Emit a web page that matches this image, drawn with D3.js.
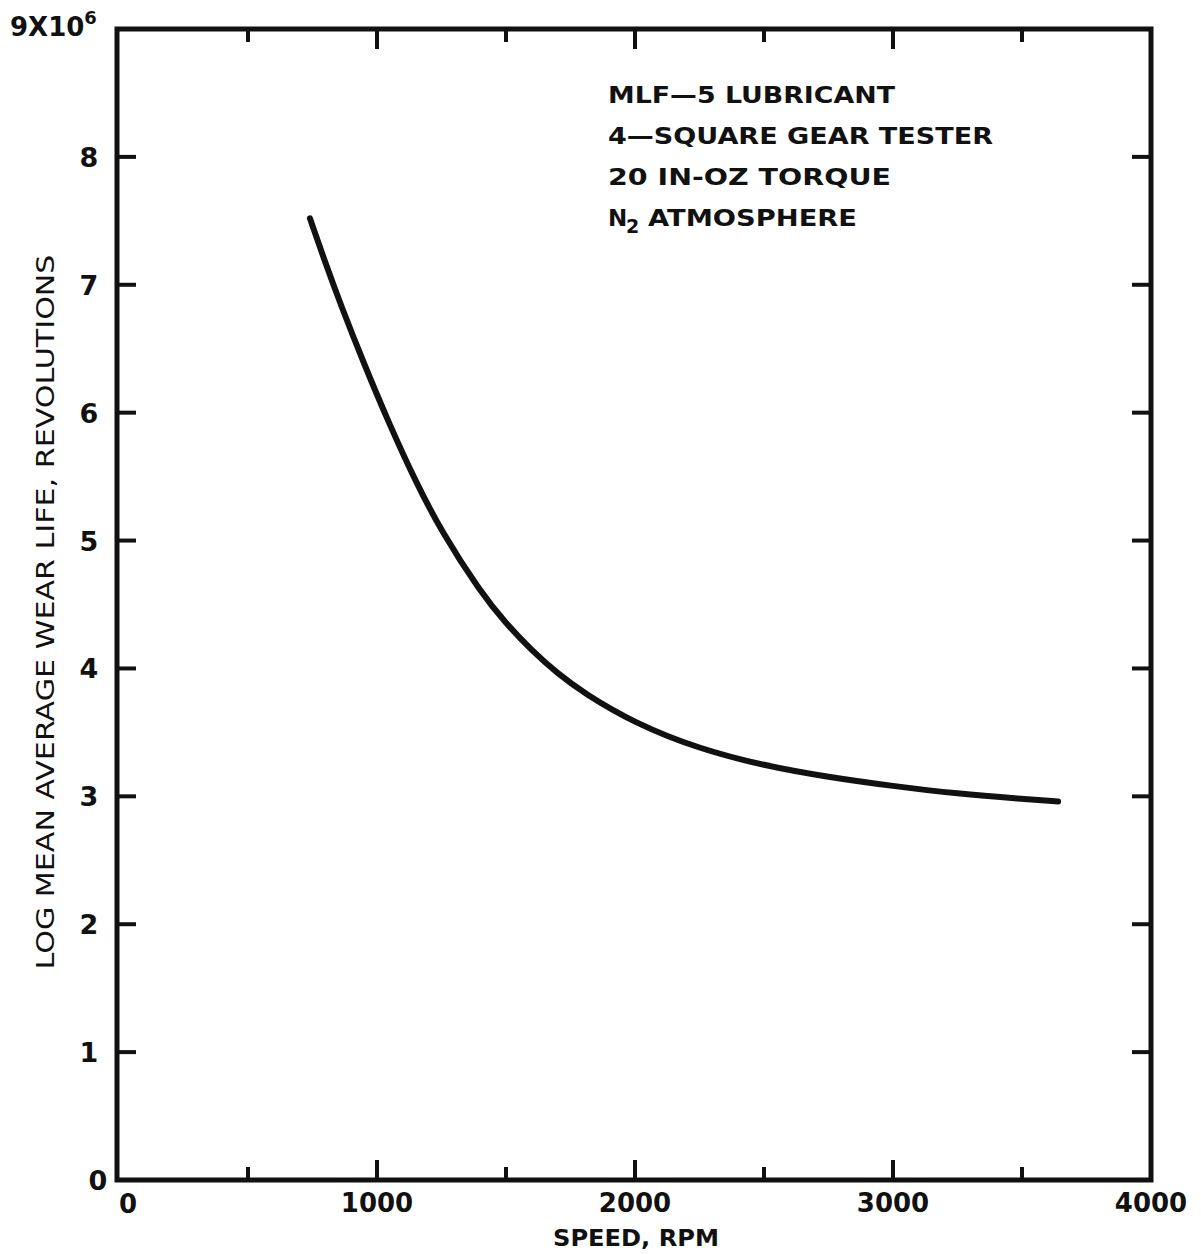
<!DOCTYPE html>
<html>
<head>
<meta charset="utf-8">
<script src="https://cdn.jsdelivr.net/npm/d3@7"></script>
<style>
  body { margin: 0; background: #fff; }
  svg text { font-family: "DejaVu Sans", sans-serif; font-weight: bold; fill: #111; }
</style>
</head>
<body>
<svg id="chart" width="1201" height="1254"></svg>
<script>
// wear life vs speed
const speed = [740, 800, 860, 950, 1050, 1150, 1250, 1400, 1500, 1600, 1700, 1800, 2000, 2250, 2500, 2750, 3000, 3250, 3500, 3640];
const life = [7.52, 7.17, 6.84, 6.38, 5.90, 5.46, 5.07, 4.60, 4.35, 4.14, 3.96, 3.81, 3.57, 3.37, 3.24, 3.15, 3.08, 3.02, 2.98, 2.96];

const xTicks = [0, 1000, 2000, 3000, 4000];
const xMinor = [500, 1500, 2500, 3500];
const yTicks = [0, 1, 2, 3, 4, 5, 6, 7, 8];
const notes = ["MLF\u20145 LUBRICANT", "4\u2014SQUARE GEAR TESTER", "20 IN-OZ  TORQUE"];

const svg = d3.select("#chart");
const pLeft = 117, pRight = 1151, pTop = 29, pBottom = 1180;

const x = d3.scaleLinear().domain([0, 4000]).range([119, pRight]);
const y = d3.scaleLinear().domain([0, 9]).range([pBottom, pTop]);

// frame
svg.append("rect")
  .attr("x", pLeft).attr("y", pTop)
  .attr("width", pRight - pLeft).attr("height", pBottom - pTop)
  .attr("fill", "none").attr("stroke", "#111").attr("stroke-width", 5);

// ticks, all pointing inward
let g = svg.append("g").attr("stroke", "#111").attr("stroke-width", 4);
xTicks.slice(1, -1).forEach(function(v) {
  g.append("line").attr("x1", x(v)).attr("x2", x(v)).attr("y1", pTop).attr("y2", pTop + 20);
  g.append("line").attr("x1", x(v)).attr("x2", x(v)).attr("y1", pBottom).attr("y2", pBottom - 20);
});
xMinor.forEach(function(v) {
  g.append("line").attr("x1", x(v)).attr("x2", x(v)).attr("y1", pTop).attr("y2", pTop + 13);
  g.append("line").attr("x1", x(v)).attr("x2", x(v)).attr("y1", pBottom).attr("y2", pBottom - 13);
});
yTicks.slice(1).forEach(function(v) {
  g.append("line").attr("x1", pLeft).attr("x2", pLeft + 19).attr("y1", y(v)).attr("y2", y(v));
  g.append("line").attr("x1", pRight).attr("x2", pRight - 19).attr("y1", y(v)).attr("y2", y(v));
});

// tick labels
svg.selectAll(".xl").data(xTicks).enter().append("text")
  .attr("class", "xl")
  .attr("x", d => d === 0 ? x(d) + 9 : x(d))
  .attr("y", d => d === 0 ? 1213 : 1212)
  .attr("text-anchor", "middle")
  .attr("font-size", 26)
  .text(d => d);

svg.selectAll(".yl").data(yTicks).enter().append("text")
  .attr("class", "yl")
  .attr("x", d => d === 0 ? 98 : 89)
  .attr("y", d => y(d) + 10)
  .attr("text-anchor", "middle")
  .attr("font-size", 27)
  .text(d => d);

// top label 9x10^6
let top9 = svg.append("text").attr("x", 10).attr("y", 36).attr("font-size", 26);
top9.append("tspan").text("9X10");
top9.append("tspan").attr("dy", -12).attr("font-size", 18).text("6");

// axis titles
svg.append("text")
  .attr("x", 636).attr("y", 1246)
  .attr("text-anchor", "middle")
  .attr("font-size", 23)
  .attr("textLength", 166).attr("lengthAdjust", "spacingAndGlyphs")
  .text("SPEED, RPM");

svg.append("text")
  .attr("transform", "translate(54,612) rotate(-90)")
  .attr("text-anchor", "middle")
  .attr("font-size", 25)
  .style("font-weight", "normal")
  .attr("textLength", 715).attr("lengthAdjust", "spacingAndGlyphs")
  .text("LOG MEAN AVERAGE WEAR LIFE, REVOLUTIONS");

// notes
const noteW = [287, 385, 283];
notes.forEach(function(t, i) {
  svg.append("text")
    .attr("x", 608).attr("y", 103 + i * 41)
    .attr("font-size", 23)
    .attr("textLength", noteW[i]).attr("lengthAdjust", "spacingAndGlyphs")
    .text(t);
});
svg.append("text").attr("x", 608).attr("y", 226).attr("font-size", 23).text("N");
svg.append("text").attr("x", 626).attr("y", 233).attr("font-size", 19).text("2");
svg.append("text").attr("x", 648).attr("y", 226).attr("font-size", 23)
  .attr("textLength", 209).attr("lengthAdjust", "spacingAndGlyphs")
  .text("ATMOSPHERE");

// curve
const line = d3.line()
  .x((d, i) => x(speed[i]))
  .y(d => y(d))
  .curve(d3.curveBasis);

svg.append("path")
  .datum(life)
  .attr("d", line)
  .attr("fill", "none")
  .attr("stroke", "#111")
  .attr("stroke-width", 6)
  .attr("stroke-linecap", "round");
</script>
</body>
</html>
